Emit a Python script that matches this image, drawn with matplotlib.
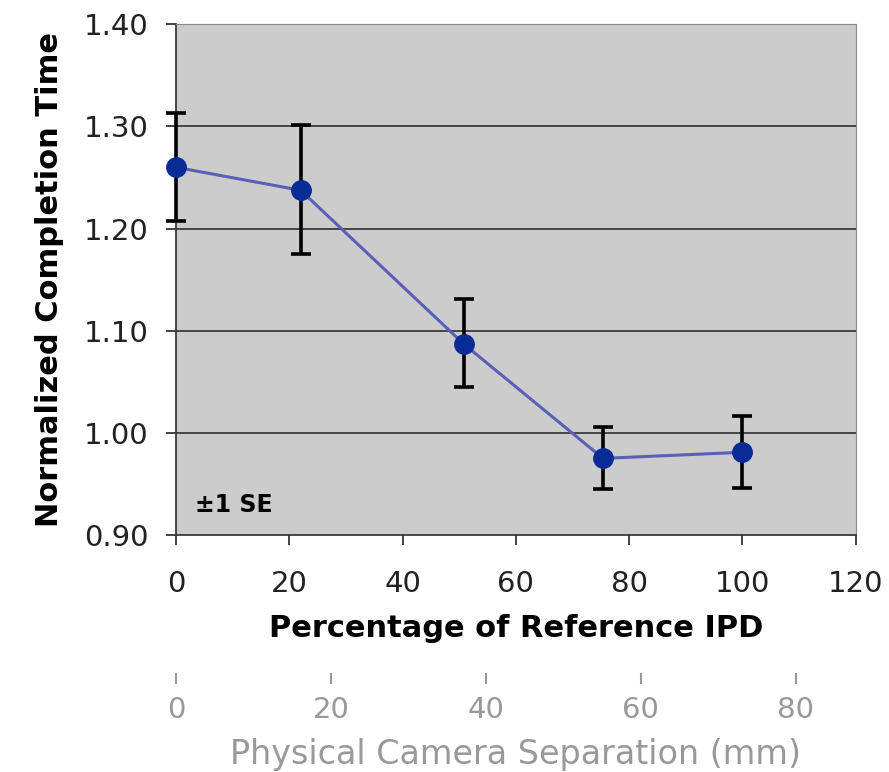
import matplotlib
matplotlib.use('Agg')
import matplotlib.pyplot as plt

# data
pct_ipd = [0, 22, 50.8, 75.4, 100]
norm_time = [1.260, 1.2375, 1.087, 0.975, 0.981]
err_hi = [1.3127, 1.3013, 1.131, 1.0053, 1.0167]
err_lo = [1.2075, 1.1748, 1.0445, 0.9448, 0.9458]

x_ticks = [0, 20, 40, 60, 80, 100, 120]
y_ticks = [0.90, 1.00, 1.10, 1.20, 1.30, 1.40]
y_ticklabels = ['0.90', '1.00', '1.10', '1.20', '1.30', '1.40']
mm_ticks = [0, 20, 40, 60, 80]
ref_ipd_mm = 73.1  # 100 % of reference IPD in mm

def pct_to_mm(p):
	return p * ref_ipd_mm / 100.0

def mm_to_pct(m):
	return m * 100.0 / ref_ipd_mm

plt.rcParams['font.family'] = ['DejaVu Sans']

fig = plt.figure(figsize=(8.89, 7.72), dpi=100)
ax = fig.add_axes([0.198, 0.307, 0.7645, 0.6615])
ax.set_facecolor('#cccccc')

yerr = [[v - lo for v, lo in zip(norm_time, err_lo)],
		[hi - v for v, hi in zip(norm_time, err_hi)]]
eb = ax.errorbar(pct_ipd, norm_time, yerr=yerr, fmt='none', ecolor='black',
			elinewidth=2.6, capsize=7.5, capthick=2.6, zorder=3)
for part in eb.lines[1] + eb.lines[2]:
	part.set_clip_on(False)
ax.plot(pct_ipd, norm_time, '-', color='#5a5fb8', lw=2.2, zorder=4, clip_on=False)
ax.plot(pct_ipd, norm_time, 'o', color='#0a2a96', ms=14, zorder=5, clip_on=False)

ax.set_xlim(0, 120)
ax.set_ylim(0.90, 1.40)
ax.set_xticks(x_ticks)
ax.set_yticks(y_ticks)
ax.set_yticklabels(y_ticklabels)
ax.tick_params(axis='both', direction='out', length=7, width=1.2, colors='#222222', labelsize=21)
ax.tick_params(axis='x', pad=18)
ax.tick_params(axis='y', pad=13)

for y in y_ticks[1:-1]:
	ax.axhline(y, color='#3a3a3a', lw=1.3, zorder=1)

ax.spines['left'].set_color('#3a3a3a')
ax.spines['bottom'].set_color('#3a3a3a')
ax.spines['left'].set_linewidth(1.3)
ax.spines['bottom'].set_linewidth(1.3)
ax.spines['top'].set_color('#8a8a8a')
ax.spines['right'].set_color('#8a8a8a')

ax.set_ylabel('Normalized Completion Time', fontsize=22, fontweight='bold', labelpad=14)
ax.set_xlabel('Percentage of Reference IPD', fontsize=22, fontweight='bold', labelpad=12)

ax.text(0.028, 0.045, '±1 SE', transform=ax.transAxes, fontsize=17, fontweight='bold')

sec = ax.secondary_xaxis(-0.27, functions=(pct_to_mm, mm_to_pct))
sec.set_xticks(mm_ticks)
sec.spines['bottom'].set_visible(False)
sec.tick_params(direction='out', length=8, width=1.5, colors='#999999', labelsize=21, pad=9)
sec.set_xlabel('Physical Camera Separation (mm)', fontsize=24, color='#999999', labelpad=10)

fig.savefig('out.png', dpi=100)
